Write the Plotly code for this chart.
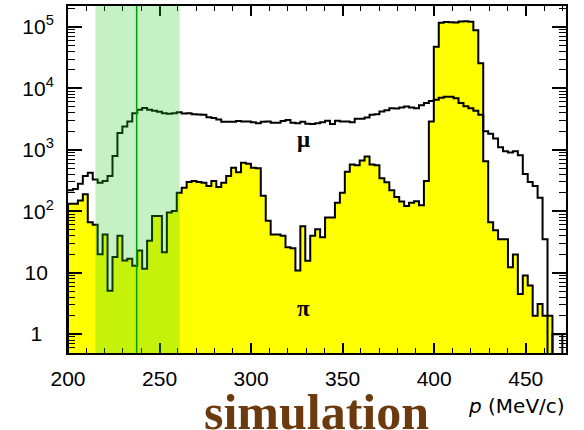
import math
import plotly.graph_objects as go

# ---------------- data ----------------
p_min, p_max, n_bins = 200.0, 470.0, 100          # histogram binning (MeV/c)

mu_counts = [220, 230, 280, 375, 424, 330, 292, 310, 375, 790,
             1870, 2400, 2900, 3950, 4480, 4780, 4500, 4300, 4150, 3950,
             3850, 3950, 4100, 3900, 3950, 3800, 3750, 3700, 3400, 3300,
             3100, 2850, 2850, 2850, 2950, 2900, 2900, 2800, 2700, 2850,
             2900, 2750, 2750, 2950, 3050, 2750, 2700, 2850, 2650, 2630,
             2700, 2800, 2980, 2630, 2980, 2900, 2900, 2800, 3210, 3210,
             3350, 3720, 3800, 4200, 4400, 4760, 4700, 4900, 5070, 4900,
             4760, 5300, 5750, 6200, 6500, 7000, 7300, 7300, 6900, 5800,
             5100, 4760, 4320, 3720, 2000, 1830, 1520, 1100, 950, 900,
             950, 816, 405, 300, 257, 166, 35, 0, 1, 1]

pi_counts = [133, 133, 150, 189, 66, 60, 20, 42, 5.1, 18,
             40, 15.8, 16.8, 13, 23, 11.6, 33, 84, 84, 21.5,
             95, 101, 200, 242, 300, 310, 300, 290, 257, 310,
             248, 290, 375, 510, 430, 615, 590, 510, 500, 178,
             70, 42, 42, 40, 26, 25, 10.9, 57, 15.7, 40,
             51, 37.6, 79, 79, 138, 200, 440, 577, 560, 671,
             778, 577, 560, 343, 296, 220, 170, 144, 122, 138,
             145, 125, 310, 2900, 47500, 117000, 120000, 119000, 118000, 122000,
             124000, 121000, 88000, 25500, 653, 66, 49, 35, 35, 12.3,
             19.7, 4.5, 9, 6.2, 2.0, 3.1, 2.0, 2.0, 0, 0]

x_tick_vals = [200, 250, 300, 350, 400, 450]
y_tick_vals = [1, 10, 100, 1000, 10000, 100000]
y_tick_text = ["1\u00a0\u00a0", "10\u00a0", "10<sup>2</sup>", "10<sup>3</sup>",
               "10<sup>4</sup>", "10<sup>5</sup>"]

band_lo, band_hi = 215.0, 261.0      # shaded acceptance window
cut_p = 237.5                        # vertical line

# ---------------- helpers ----------------
width = (p_max - p_min) / n_bins
edges = [p_min + i * width for i in range(n_bins + 1)]
FLOOR = 1e-3                         # stand-in for empty bins on the log axis


def clean(vals):
    return [v if v > 0 else FLOOR for v in vals]


pi_v = clean(pi_counts)
mu_v = clean(mu_counts)

fig = go.Figure()

# pi histogram: filled yellow with black outline
fig.add_trace(go.Scatter(
    x=[edges[0]] + edges[:-1] + [edges[-1], edges[-1]],
    y=[FLOOR] + pi_v + [pi_v[-1], FLOOR],
    mode="lines", line=dict(shape="hv", color="black", width=2),
    fill="toself", fillcolor="#ffff00", hoverinfo="skip", showlegend=False))

# mu histogram: black line
fig.add_trace(go.Scatter(
    x=edges[:-1] + [edges[-1], edges[-1]],
    y=mu_v + [mu_v[-1], FLOOR],
    mode="lines", line=dict(shape="hv", color="black", width=2),
    hoverinfo="skip", showlegend=False))

fig.add_shape(type="rect", xref="x", yref="paper", x0=band_lo, x1=band_hi,
              y0=0, y1=1, fillcolor="rgba(40,205,40,0.27)", line=dict(width=0),
              layer="above")
fig.add_shape(type="line", xref="x", yref="paper", x0=cut_p, x1=cut_p,
              y0=0, y1=1, line=dict(color="#00a000", width=1.5), layer="above")

fig.add_annotation(x=328.6, y=3.17, xref="x", yref="y",
                   text="<b>μ</b>", showarrow=False,
                   font=dict(family="Liberation Serif", size=23, color="black"))
fig.add_annotation(x=328.6, y=0.42, xref="x", yref="y",
                   text="<b>π</b>", showarrow=False,
                   font=dict(family="Liberation Serif", size=23, color="black"))

fig.add_annotation(x=0.498, y=-0.17, xref="paper", yref="paper",
                   text="<b>simulation</b>", showarrow=False,
                   xanchor="center", yanchor="middle",
                   font=dict(family="Liberation Serif", size=50, color="#6b3a0e"))
fig.add_annotation(x=1.002, y=-0.152, xref="paper", yref="paper",
                   text="<i>p</i> (MeV/c)", showarrow=False,
                   xanchor="right", yanchor="middle",
                   font=dict(family="DejaVu Sans", size=20, color="black"))

fig.update_xaxes(range=[200, 472], tickvals=x_tick_vals,
                 ticks="inside", ticklen=10, tickwidth=1.5, tickcolor="black",
                 minor=dict(ticks="inside", ticklen=5, tickwidth=1, dtick=10,
                            tick0=200, tickcolor="black"),
                 showline=True, linewidth=2, linecolor="black", mirror="ticks",
                 showgrid=False, zeroline=False,
                 tickfont=dict(family="Liberation Sans", size=21, color="black"),
                 ticklabelstandoff=6)
fig.update_yaxes(type="log", range=[-0.307, 5.34],
                 tickvals=y_tick_vals, ticktext=y_tick_text,
                 ticks="inside", ticklen=14, tickwidth=1.5, tickcolor="black",
                 minor=dict(ticks="inside", ticklen=7, tickwidth=1,
                            tickvals=[m * 10 ** d for d in range(-1, 6) for m in range(2, 10)],
                            tickcolor="black"),
                 showline=True, linewidth=2, linecolor="black", mirror="ticks",
                 showgrid=False, zeroline=False,
                 tickfont=dict(family="Liberation Sans", size=21, color="black"),
                 ticklabelstandoff=8)

fig.update_layout(width=584, height=430, margin=dict(l=68, r=18, t=4, b=77),
                  plot_bgcolor="white", paper_bgcolor="white")

fig.write_html("out.html", config={"displayModeBar": False},
               post_script="document.body.style.margin='0px';"
                           "document.body.style.overflow='hidden';")
